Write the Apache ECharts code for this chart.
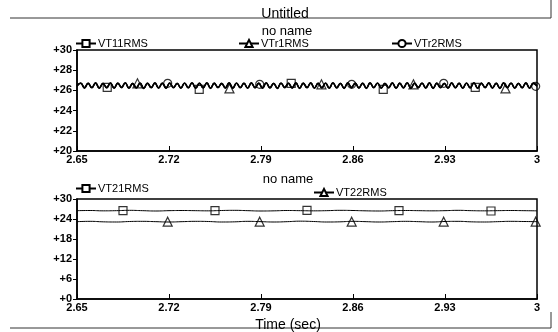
<!DOCTYPE html>
<html>
<head>
<meta charset="utf-8">
<script src="https://cdn.jsdelivr.net/npm/echarts@6/dist/echarts.min.js"></script>
<style>
  html, body { margin: 0; padding: 0; background: #fff; }
  #main { width: 558px; height: 332px; }
</style>
</head>
<body>
<div id="main"></div>
<script>
// time window (sec)
const tStart = 2.65;
const tEnd = 3.0;
const xTickStep = 0.07;

// upper plot: RMS with ripple, sampled evenly over the window
const vt11 = [26.45, 26.72, 26.25, 26.70, 26.28, 26.74, 26.22, 26.69, 26.27, 26.73, 26.24, 26.71, 26.30, 26.75, 26.23, 26.68, 26.26, 26.72, 26.21, 26.70,
  26.29, 26.74, 26.25, 26.71, 26.22, 26.73, 26.28, 26.69, 26.24, 26.72, 26.27, 26.75, 26.23, 26.70, 26.26, 26.73, 26.21, 26.71, 26.29, 26.68,
  26.25, 26.74, 26.22, 26.72, 26.28, 26.70, 26.24, 26.73, 26.27, 26.71, 26.23, 26.75, 26.26, 26.69, 26.22, 26.72, 26.29, 26.70, 26.25, 26.74,
  26.21, 26.71, 26.28, 26.73, 26.24, 26.70, 26.27, 26.72, 26.23, 26.75, 26.26, 26.69, 26.22, 26.73, 26.29, 26.71, 26.25, 26.70, 26.21, 26.74,
  26.28, 26.72, 26.24, 26.69, 26.27, 26.73, 26.23, 26.71, 26.26, 26.75, 26.22, 26.70, 26.29, 26.72, 26.25, 26.74, 26.21, 26.71, 26.28, 26.69,
  26.24, 26.73, 26.27, 26.70, 26.23, 26.72, 26.26, 26.75, 26.22, 26.71, 26.29, 26.73, 26.25, 26.70, 26.21, 26.74, 26.28, 26.72, 26.24, 26.69,
  26.27, 26.73, 26.23, 26.71, 26.45];
const vtr1 = [26.50, 26.75, 26.28, 26.73, 26.30, 26.76, 26.26, 26.72, 26.31, 26.75, 26.27, 26.74, 26.32, 26.77, 26.26, 26.71, 26.29, 26.75, 26.25, 26.73,
  26.31, 26.76, 26.28, 26.74, 26.26, 26.75, 26.30, 26.72, 26.27, 26.75, 26.30, 26.77, 26.26, 26.73, 26.29, 26.76, 26.25, 26.74, 26.31, 26.71,
  26.28, 26.76, 26.26, 26.75, 26.30, 26.73, 26.27, 26.76, 26.30, 26.74, 26.26, 26.77, 26.29, 26.72, 26.25, 26.75, 26.31, 26.73, 26.28, 26.76,
  26.25, 26.74, 26.30, 26.76, 26.27, 26.73, 26.30, 26.75, 26.26, 26.77, 26.29, 26.72, 26.25, 26.76, 26.31, 26.74, 26.28, 26.73, 26.25, 26.76,
  26.30, 26.75, 26.27, 26.72, 26.30, 26.76, 26.26, 26.74, 26.29, 26.77, 26.25, 26.73, 26.31, 26.75, 26.28, 26.76, 26.25, 26.74, 26.30, 26.72,
  26.27, 26.76, 26.30, 26.73, 26.26, 26.75, 26.29, 26.77, 26.25, 26.74, 26.31, 26.76, 26.28, 26.73, 26.25, 26.76, 26.30, 26.75, 26.27, 26.72,
  26.30, 26.76, 26.26, 26.74, 26.50];
const vtr2 = [26.40, 26.70, 26.22, 26.68, 26.25, 26.71, 26.20, 26.67, 26.24, 26.70, 26.21, 26.69, 26.26, 26.72, 26.20, 26.66, 26.23, 26.70, 26.19, 26.68,
  26.25, 26.71, 26.22, 26.69, 26.20, 26.70, 26.25, 26.67, 26.21, 26.70, 26.24, 26.72, 26.20, 26.68, 26.23, 26.71, 26.19, 26.69, 26.26, 26.66,
  26.22, 26.71, 26.20, 26.70, 26.25, 26.68, 26.21, 26.71, 26.24, 26.69, 26.20, 26.72, 26.23, 26.67, 26.19, 26.70, 26.26, 26.68, 26.22, 26.71,
  26.19, 26.69, 26.25, 26.71, 26.21, 26.68, 26.24, 26.70, 26.20, 26.72, 26.23, 26.67, 26.19, 26.71, 26.26, 26.69, 26.22, 26.68, 26.19, 26.71,
  26.25, 26.70, 26.21, 26.67, 26.24, 26.71, 26.20, 26.69, 26.23, 26.72, 26.19, 26.68, 26.26, 26.70, 26.22, 26.71, 26.19, 26.69, 26.25, 26.67,
  26.21, 26.71, 26.24, 26.68, 26.20, 26.70, 26.23, 26.72, 26.19, 26.69, 26.26, 26.71, 26.22, 26.68, 26.19, 26.71, 26.25, 26.70, 26.21, 26.67,
  26.24, 26.71, 26.20, 26.69, 26.40];

// lower plot
const vt21 = [26.50, 26.55, 26.45, 26.50, 26.60, 26.50, 26.40, 26.50, 26.55, 26.50, 26.45, 26.55, 26.60, 26.50, 26.40, 26.45, 26.55, 26.50,
  26.45, 26.50, 26.60, 26.55, 26.45, 26.40, 26.50, 26.55, 26.50, 26.45, 26.50, 26.60, 26.50, 26.45, 26.50, 26.55, 26.50, 26.45];
const vt22 = [23.20, 23.30, 23.15, 23.10, 23.25, 23.30, 23.20, 23.10, 23.20, 23.30, 23.25, 23.10, 23.15, 23.30, 23.20, 23.10, 23.20, 23.35,
  23.25, 23.10, 23.15, 23.30, 23.20, 23.10, 23.20, 23.30, 23.20, 23.10, 23.25, 23.30, 23.15, 23.10, 23.20, 23.30, 23.25, 23.20];

// marker positions [time, value]
const vt11Marks = [[2.673, 26.3], [2.743, 26.1], [2.813, 26.7], [2.883, 26.1], [2.953, 26.3]];
const vtr1Marks = [[2.696, 26.7], [2.766, 26.2], [2.836, 26.6], [2.906, 26.6], [2.976, 26.2]];
const vtr2Marks = [[2.719, 26.7], [2.789, 26.6], [2.859, 26.6], [2.929, 26.7], [2.999, 26.4]];
const vt21Marks = [[2.685, 26.5], [2.755, 26.5], [2.825, 26.6], [2.895, 26.5], [2.965, 26.4]];
const vt22Marks = [[2.719, 23.2], [2.789, 23.2], [2.859, 23.2], [2.929, 23.2], [2.999, 23.2]];

const topTicks = { min: 20, max: 30, interval: 2 };
const bottomTicks = { min: 0, max: 30, interval: 6 };

const FONT = 'Liberation Sans';

// spread samples evenly over the window, x measured from tStart
function toPoints(vals) {
  const dt = (tEnd - tStart) / (vals.length - 1);
  return vals.map((v, i) => [i * dt, v]);
}
function shiftMarks(marks) {
  return marks.map(m => [m[0] - tStart, m[1]]);
}

function lineSeries(name, vals, symbol, axis, width) {
  return {
    name: name,
    type: 'line',
    xAxisIndex: axis,
    yAxisIndex: axis,
    data: toPoints(vals),
    smooth: true,
    symbol: symbol,
    symbolSize: 8,
    showSymbol: false,
    lineStyle: { color: '#000', width: width },
    itemStyle: { color: '#000' },
    z: 2
  };
}
function markSeries(name, marks, symbol, axis) {
  return {
    name: name,
    type: 'scatter',
    xAxisIndex: axis,
    yAxisIndex: axis,
    data: shiftMarks(marks),
    symbol: symbol,
    symbolSize: symbol === 'triangle' ? 9 : 8,
    itemStyle: { color: 'rgba(255,255,255,0)', borderColor: '#000', borderWidth: 1.2 },
    z: 3,
    silent: true
  };
}

function xAxisCfg(grid) {
  return {
    type: 'value',
    gridIndex: grid,
    min: 0,
    max: tEnd - tStart,
    interval: xTickStep,
    axisLine: { lineStyle: { color: '#000', width: 1.5 } },
    axisTick: { inside: true, length: 5, lineStyle: { color: '#000' } },
    splitLine: { show: false },
    axisLabel: {
      color: '#000', fontFamily: FONT, fontSize: 11, fontWeight: 'bold', margin: 3,
      formatter: v => String(+(v + tStart).toFixed(2))
    }
  };
}
function yAxisCfg(grid, ticks) {
  return {
    type: 'value',
    gridIndex: grid,
    min: ticks.min,
    max: ticks.max,
    interval: ticks.interval,
    axisLine: { lineStyle: { color: '#000', width: 1.5 } },
    axisTick: { length: 4, lineStyle: { color: '#000' } },
    splitLine: { show: false },
    axisLabel: {
      color: '#000', fontFamily: FONT, fontSize: 11, fontWeight: 'bold', margin: 5,
      formatter: v => '+' + v
    }
  };
}
function legendCfg(name, left, top) {
  return {
    data: [name],
    left: left,
    top: top,
    itemWidth: 20,
    itemHeight: 9,
    itemGap: 2,
    padding: 0,
    selectedMode: false,
    textStyle: { color: '#000', fontFamily: FONT, fontSize: 11, padding: [0, 0, 0, -3] }
  };
}

const chart = echarts.init(document.getElementById('main'));
chart.setOption({
  animation: false,
  backgroundColor: '#fff',
  title: [
    { text: 'Untitled', left: 280, top: 2, textAlign: 'center',
      textStyle: { fontFamily: FONT, fontSize: 14, fontWeight: 'normal', color: '#000' } },
    { text: 'no name', left: 282, top: 20, textAlign: 'center',
      textStyle: { fontFamily: FONT, fontSize: 13, fontWeight: 'normal', color: '#000' } },
    { text: 'no name', left: 283, top: 168, textAlign: 'center',
      textStyle: { fontFamily: FONT, fontSize: 13, fontWeight: 'normal', color: '#000' } },
    { text: 'Time (sec)', left: 283, top: 313, textAlign: 'center',
      textStyle: { fontFamily: FONT, fontSize: 14, fontWeight: 'normal', color: '#000' } }
  ],
  legend: [
    legendCfg('VT11RMS', 75, 38),
    legendCfg('VTr1RMS', 238, 38),
    legendCfg('VTr2RMS', 391, 38),
    legendCfg('VT21RMS', 75, 183),
    legendCfg('VT22RMS', 313, 187)
  ],
  grid: [
    { left: 77, top: 50, width: 460, height: 101, show: true, backgroundColor: '#fff', borderColor: '#000', borderWidth: 1.5 },
    { left: 77, top: 199, width: 460, height: 100, show: true, backgroundColor: '#fff', borderColor: '#000', borderWidth: 1.5 }
  ],
  xAxis: [xAxisCfg(0), xAxisCfg(1)],
  yAxis: [yAxisCfg(0, topTicks), yAxisCfg(1, bottomTicks)],
  series: [
    lineSeries('VT11RMS', vt11, 'emptyRect', 0, 1.4),
    lineSeries('VTr1RMS', vtr1, 'emptyTriangle', 0, 1.4),
    lineSeries('VTr2RMS', vtr2, 'emptyCircle', 0, 1.4),
    lineSeries('VT21RMS', vt21, 'emptyRect', 1, 1),
    lineSeries('VT22RMS', vt22, 'emptyTriangle', 1, 1),
    markSeries('vt11 marks', vt11Marks, 'rect', 0),
    markSeries('vtr1 marks', vtr1Marks, 'triangle', 0),
    markSeries('vtr2 marks', vtr2Marks, 'circle', 0),
    markSeries('vt21 marks', vt21Marks, 'rect', 1),
    markSeries('vt22 marks', vt22Marks, 'triangle', 1)
  ],
  graphic: [
    // frame lines around the page, as in the printout
    { type: 'line', shape: { x1: 10, y1: 18, x2: 551, y2: 18 }, style: { stroke: '#333', lineWidth: 1 } },
    { type: 'line', shape: { x1: 551, y1: 0, x2: 551, y2: 18 }, style: { stroke: '#333', lineWidth: 1 } },
    { type: 'line', shape: { x1: 10, y1: 328, x2: 551, y2: 328 }, style: { stroke: '#333', lineWidth: 1 } },
    { type: 'line', shape: { x1: 551, y1: 312, x2: 551, y2: 328 }, style: { stroke: '#333', lineWidth: 1 } }
  ]
});
</script>
</body>
</html>
